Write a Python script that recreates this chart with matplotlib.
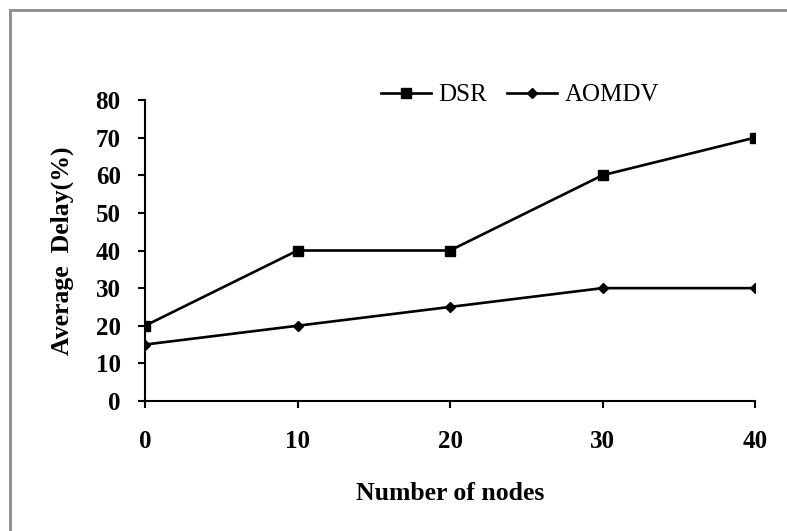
import matplotlib
matplotlib.use("Agg")
import matplotlib.pyplot as plt
from matplotlib.lines import Line2D

# data
nodes = [0, 10, 20, 30, 40]
dsr = [20, 40, 40, 60, 70]
aomdv = [15, 20, 25, 30, 30]
y_ticks = [0, 10, 20, 30, 40, 50, 60, 70, 80]

plt.rcParams["font.family"] = ["Liberation Serif", "DejaVu Serif"]

fig = plt.figure(figsize=(7.87, 5.31), dpi=100)
ax = fig.add_axes([145 / 787, 1 - 401 / 531, 610 / 787, 301 / 531])

ax.plot(nodes, dsr, color="black", linewidth=1.9, marker="s", markersize=7, label="DSR")
ax.plot(nodes, aomdv, color="black", linewidth=1.9, marker="D", markersize=5.5, label="AOMDV")

ax.set_xlim(0, 40)
ax.set_ylim(0, 80)
ax.set_xticks(nodes)
ax.set_yticks(y_ticks)

for side in ["top", "right"]:
    ax.spines[side].set_visible(False)
for side in ["left", "bottom"]:
    ax.spines[side].set_linewidth(1.5)
    ax.spines[side].set_clip_on(False)

ax.tick_params(axis="both", direction="out", length=5, width=1.5, labelsize=18)
ax.tick_params(axis="y", pad=12.5)
ax.tick_params(axis="x", pad=16)
for lab in ax.get_xticklabels() + ax.get_yticklabels():
    lab.set_fontweight("bold")

ax.set_xlabel("Number of nodes", fontsize=18.5, fontweight="bold")
ax.xaxis.set_label_coords(0.5, -0.268)
ax.set_ylabel("Average  Delay(%)", fontsize=18.5, fontweight="bold")
ax.yaxis.set_label_coords(-0.117, 0.5)

ax.legend(loc="center", bbox_to_anchor=(520 / 787, 1 - 95 / 531),
          bbox_transform=fig.transFigure, ncol=2, frameon=False,
          fontsize=18, handlelength=2.0, handletextpad=0.3,
          columnspacing=0.8, borderpad=0)

# grey frame of the chart area (top and left edges are visible)
fig.add_artist(Line2D([9.5 / 787, 1], [1 - 10 / 531, 1 - 10 / 531],
                      transform=fig.transFigure, color="#8c8c8c", linewidth=2))
fig.add_artist(Line2D([9.5 / 787, 9.5 / 787], [0, 1 - 10 / 531],
                      transform=fig.transFigure, color="#8c8c8c", linewidth=2))

fig.savefig("out.png", dpi=100)
